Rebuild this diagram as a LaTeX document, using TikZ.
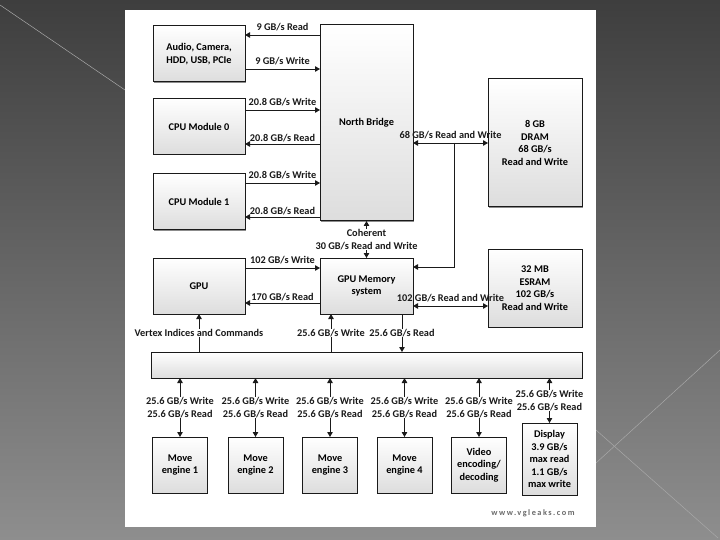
\documentclass[tikz,border=0pt]{standalone}
\usepackage{fontspec}
\setmainfont{Carlito}
\newfontfamily\hwsite[LetterSpace=18]{Carlito}
\usepackage{xcolor}
\usepackage{tikz}
\usetikzlibrary{
  arrows.meta,
  positioning,
  calc,
  shadows
}
\definecolor{hwBgTop}{HTML}{3E3E3E}
\definecolor{hwBgBot}{HTML}{8E8E8E}
\definecolor{hwRay}{HTML}{A8A8A8}
\definecolor{hwLine}{HTML}{1A1A1A}
\definecolor{hwFill}{HTML}{DDDDDD}
\definecolor{hwMark}{HTML}{6A6A6A}
\tikzset{
  hwnode/.style={
    draw=hwLine, line width=1pt, outer sep=0pt, inner sep=1pt,
    top color=white, bottom color=hwFill, align=center,
    font=\fontsize{10.3}{12.5}\selectfont\bfseries,
    drop shadow={shadow xshift=0.8pt, shadow yshift=-0.8pt, fill=black!45, opacity=1}
  },
  hwbox/.style={hwnode, minimum width=92pt, minimum height=56pt},
  hwcell/.style={hwnode, minimum width=55pt, minimum height=56pt},
  hwlink/.style={-{Triangle[length=5pt, width=5.5pt]}, line width=0.9pt, hwLine},
  hwboth/.style={{Triangle[length=5pt, width=5.5pt]}-{Triangle[length=5pt, width=5.5pt]}, line width=0.9pt, hwLine},
  hwtag/.style={font=\fontsize{10.3}{12.5}\selectfont\bfseries, inner sep=1pt, align=center, text=hwLine},
  hwcut/.style={hwtag, fill=white, inner sep=0.5pt},
  hwray/.style={hwRay, line width=0.5pt}
}

\begin{document}
\begin{tikzpicture}[x=1pt, y=-1pt]
  \useasboundingbox (0,0) rectangle (720,540);
  \shade[top color=hwBgTop, bottom color=hwBgBot] (0,0) rectangle (720,540);
  \draw[hwray] (0,5) -- (125,90);
  \draw[hwray] (720,350) -- (596,463);
  \draw[hwray] (596,430) -- (718,538);
  \fill[white] (125,10) rectangle (596,527);

  \node[hwbox] (audio) at (199,54) {Audio, Camera,\\HDD, USB, PCIe};
  \node[hwbox, minimum width=93pt, minimum height=196pt] (nb) at (366.5,123) {North Bridge};
  \node[hwbox] (cpu0) at (199,126.5) {CPU Module 0};
  \node[hwbox] (cpu1) at (199,202) {CPU Module 1};
  \node[hwbox] (gpu) at (199,286) {GPU};
  \node[hwbox, minimum width=93pt] (gmem) at (366.5,286) {GPU Memory\\system};
  \node[hwbox, minimum width=94pt, minimum height=128pt] (dram) at (535,143) {8 GB\\DRAM\\68 GB/s\\Read and Write};
  \node[hwbox, minimum width=94pt, minimum height=78pt] (esram) at (535,288) {32 MB\\ESRAM\\102 GB/s\\Read and Write};
  \node[hwnode, minimum width=431pt, minimum height=26pt] (bus) at (366.5,365) {};
  \node[hwcell] (move1) at (180,465) {Move\\engine 1};
  \node[hwcell] (move2) at (255.5,465) {Move\\engine 2};
  \node[hwcell] (move3) at (330,465) {Move\\engine 3};
  \node[hwcell] (move4) at (404.5,465) {Move\\engine 4};
  \node[hwcell] (video) at (479,465) {Video\\encoding/\\decoding};
  \node[hwcell, minimum height=72pt] (disp) at (549.5,459) {Display\\3.9 GB/s\\max read\\1.1 GB/s\\max write};
  \node[font=\hwsite\fontsize{8.3}{9}\selectfont\bfseries, text=hwMark] (site) at (533,513) {www.vgleaks.com};

  \draw[hwlink] ([yshift=19pt]audio.east -| nb.west) -- node[hwtag, above=3pt] {9 GB/s Read} ([yshift=19pt]audio.east);
  \draw[hwlink] ([yshift=-15pt]audio.east) -- node[hwtag, above=3pt] {9 GB/s Write} ([yshift=-15pt]audio.east -| nb.west);
  \draw[hwlink] ([yshift=16.5pt]cpu0.east) -- node[hwtag, above=3pt] {20.8 GB/s Write} ([yshift=16.5pt]cpu0.east -| nb.west);
  \draw[hwlink] ([yshift=-17.5pt]cpu0.east -| nb.west) -- node[hwtag, above=1pt] {20.8 GB/s Read} ([yshift=-17.5pt]cpu0.east);
  \draw[hwlink] ([yshift=19pt]cpu1.east) -- node[hwtag, above=3pt] {20.8 GB/s Write} ([yshift=19pt]cpu1.east -| nb.west);
  \draw[hwlink] ([yshift=-15pt]cpu1.east -| nb.west) -- node[hwtag, above=1pt] {20.8 GB/s Read} ([yshift=-15pt]cpu1.east);
  \draw[hwlink] ([yshift=18pt]gpu.east) -- node[hwtag, above=3pt] {102 GB/s Write} ([yshift=18pt]gpu.east -| gmem.west);
  \draw[hwlink] ([yshift=-17pt]gpu.east -| gmem.west) -- node[hwtag, above=1pt] {170 GB/s Read} ([yshift=-17pt]gpu.east);
  \draw[hwboth] (nb.south) -- node[hwcut] {Coherent\\30 GB/s Read and Write} (gmem.north);
  \draw[hwboth] (dram.west -| nb.east) -- node[hwtag, above=3pt] {68 GB/s Read and Write} (dram.west);
  \coordinate (tap) at ($(dram.west -| nb.east)!0.55!(dram.west)$);
  \draw[hwlink] (tap) |- ([yshift=19pt]gmem.east);
  \draw[hwboth] ([yshift=-20pt]gmem.east) -- node[hwtag, above=3pt] {102 GB/s Read and Write} ([yshift=-20pt]gmem.east -| esram.west);
  \draw[hwlink] (gpu.south |- bus.north) -- node[hwcut] {Vertex Indices and Commands} (gpu.south);
  \draw[hwlink] ([xshift=-35.5pt]gmem.south |- bus.north) -- node[hwcut] {25.6 GB/s Write} ([xshift=-35.5pt]gmem.south);
  \draw[hwlink] ([xshift=35.5pt]gmem.south) -- node[hwcut] {25.6 GB/s Read} ([xshift=35.5pt]gmem.south |- bus.north);

  \draw[hwboth] (bus.south -| move1.north) -- node[hwcut] {25.6 GB/s Write\\25.6 GB/s Read} (move1.north);
  \draw[hwboth] (bus.south -| move2.north) -- node[hwcut] {25.6 GB/s Write\\25.6 GB/s Read} (move2.north);
  \draw[hwboth] (bus.south -| move3.north) -- node[hwcut] {25.6 GB/s Write\\25.6 GB/s Read} (move3.north);
  \draw[hwboth] (bus.south -| move4.north) -- node[hwcut] {25.6 GB/s Write\\25.6 GB/s Read} (move4.north);
  \draw[hwboth] (bus.south -| video.north) -- node[hwcut] {25.6 GB/s Write\\25.6 GB/s Read} (video.north);
  \draw[hwboth] (bus.south -| disp.north) -- node[hwcut] {25.6 GB/s Write\\25.6 GB/s Read} (disp.north);
\end{tikzpicture}
\end{document}
